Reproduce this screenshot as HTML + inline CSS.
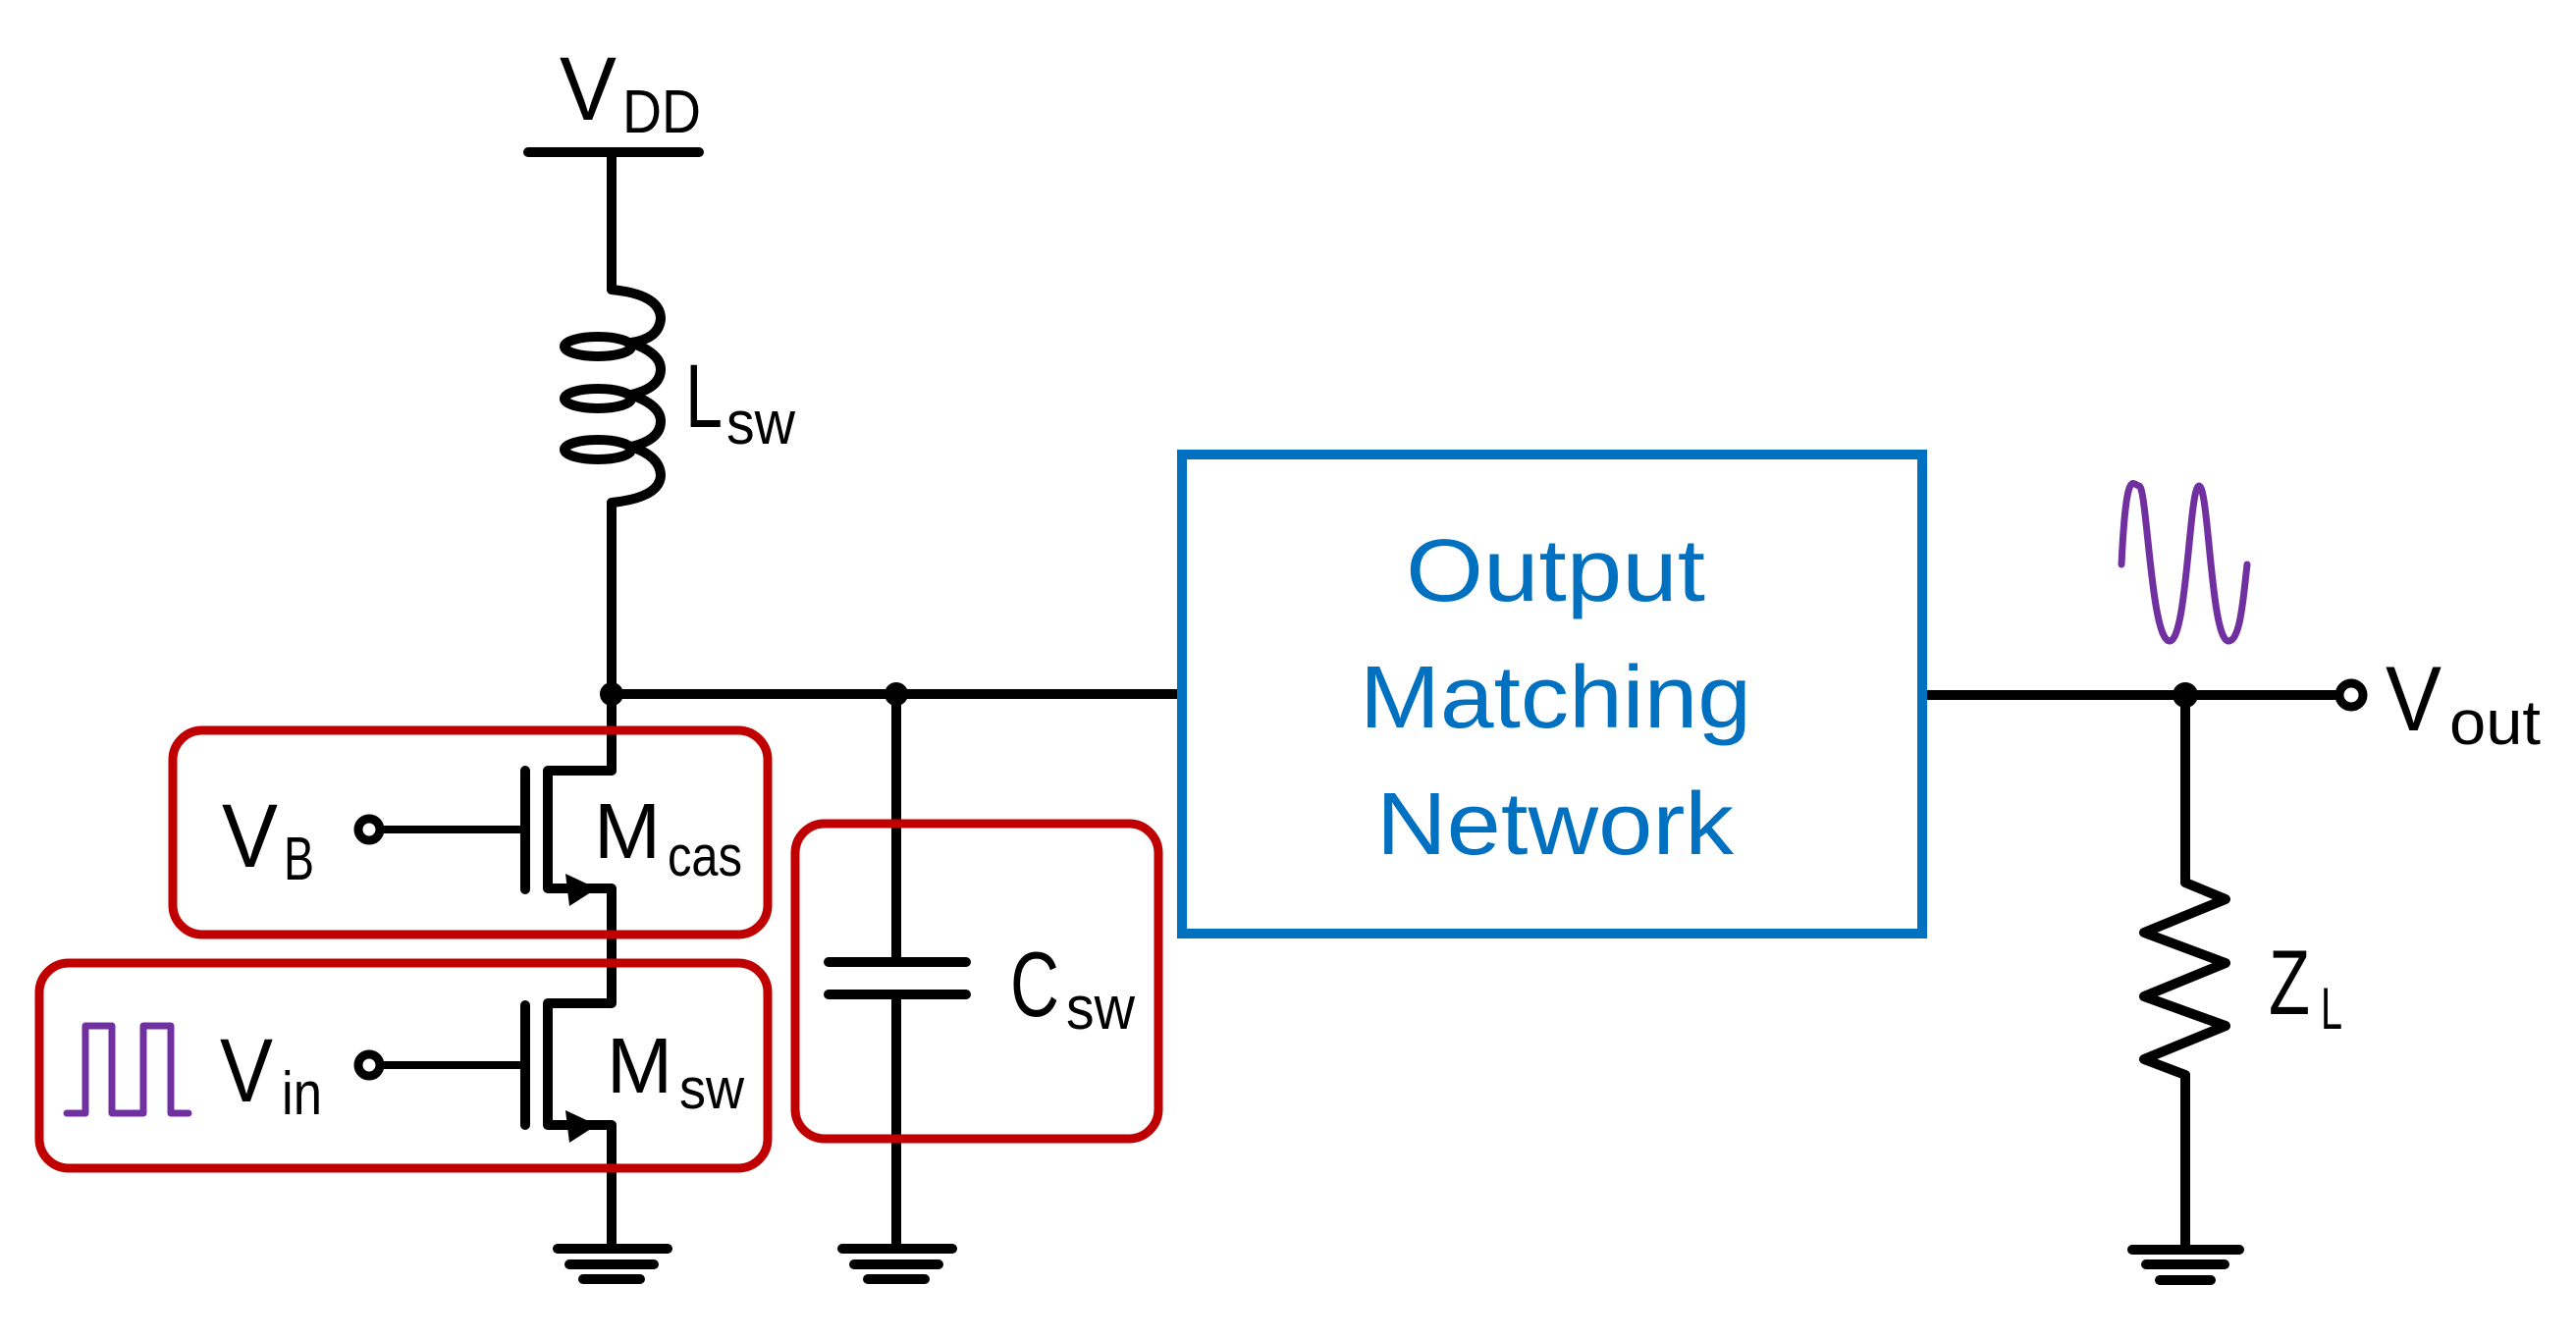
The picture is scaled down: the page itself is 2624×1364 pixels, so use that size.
<!DOCTYPE html>
<html><head><meta charset="utf-8"><style>
html,body{margin:0;padding:0;background:#fff;}
svg{display:block;}
text{font-family:"Liberation Sans",sans-serif;}
</style></head><body>
<svg width="2624" height="1364" viewBox="0 0 2624 1364" xmlns="http://www.w3.org/2000/svg">
<g stroke="#000" stroke-width="10" fill="none" stroke-linecap="round" stroke-linejoin="round">
  <line x1="538" y1="155" x2="712" y2="155"/>
  <line x1="623" y1="155" x2="623" y2="295"/>
  <path d="M623,295 Q673,300 673,325 Q671,345 643,349"/>
  <path d="M643,349 Q673,360 673,376 Q673,395 643,402"/>
  <path d="M643,402 Q673,413 673,429 Q673,448 643,455"/>
  <path d="M643,455 Q673,465 673,485 Q671,507 623,512"/>
  <ellipse cx="609" cy="353" rx="34" ry="10"/>
  <ellipse cx="609" cy="406" rx="34" ry="10"/>
  <ellipse cx="609" cy="458" rx="34" ry="10"/>
  <line x1="623" y1="512" x2="623" y2="785"/>
  <line x1="623" y1="707" x2="1202" y2="707"/>
  <polyline points="623,785 558,785 558,905 623,905 623,1022 558,1022 558,1146 623,1146 623,1272"/>
  <line x1="535" y1="785" x2="535" y2="906"/>
  <line x1="535" y1="1024" x2="535" y2="1146"/>
  <line x1="376" y1="845" x2="535" y2="845" stroke-width="8"/>
  <line x1="376" y1="1085" x2="535" y2="1085" stroke-width="8"/>
  <line x1="568" y1="1272" x2="680" y2="1272"/>
  <line x1="580" y1="1288" x2="666" y2="1288"/>
  <line x1="594" y1="1303" x2="652" y2="1303"/>
  <line x1="913" y1="707" x2="913" y2="980"/>
  <line x1="913" y1="1013" x2="913" y2="1272"/>
  <line x1="844" y1="980" x2="984" y2="980"/>
  <line x1="844" y1="1013" x2="984" y2="1013"/>
  <line x1="858" y1="1272" x2="970" y2="1272"/>
  <line x1="870" y1="1288" x2="956" y2="1288"/>
  <line x1="884" y1="1303" x2="942" y2="1303"/>
  <line x1="1960" y1="708" x2="2383" y2="708"/>
  <polyline points="2226,708 2226,899 2267,916 2184,950 2267,981 2184,1015 2267,1045 2184,1079 2226,1095 2226,1273"/>
  <line x1="2172" y1="1273" x2="2281" y2="1273"/>
  <line x1="2186" y1="1288" x2="2266" y2="1288"/>
  <line x1="2200" y1="1304" x2="2252" y2="1304"/>
</g>
<polygon points="576,890 608,905 580,923" fill="#000"/>
<polygon points="576,1131 608,1146 580,1164" fill="#000"/>
<circle cx="623" cy="707" r="12" fill="#000"/>
<circle cx="913" cy="707" r="12" fill="#000"/>
<circle cx="2226" cy="708" r="13" fill="#000"/>
<g fill="#fff" stroke="#000" stroke-width="9">
  <circle cx="376" cy="845" r="11"/>
  <circle cx="376" cy="1085" r="11"/>
  <circle cx="2395" cy="708" r="12"/>
</g>
<g fill="none" stroke="#c00000" stroke-width="9">
  <rect x="176" y="744" width="606" height="208" rx="30"/>
  <rect x="40" y="981" width="742" height="209" rx="30"/>
  <rect x="810" y="839" width="370" height="321" rx="30"/>
</g>
<rect x="1204" y="463" width="754" height="488" fill="none" stroke="#0070c0" stroke-width="10"/>
<polyline points="68,1134 87,1134 87,1045 114,1045 114,1134 146,1134 146,1045 174,1045 174,1134 192,1134" fill="none" stroke="#7030a0" stroke-width="7" stroke-linejoin="round" stroke-linecap="round"/>
<path d="M2161,575 C2166,470 2173,495 2179,495 C2187,495 2191,653 2210,653 C2228,653 2230,495 2240,495 C2250,495 2252,653 2270,653 C2282,653 2285,610 2289,575" fill="none" stroke="#7030a0" stroke-width="7" stroke-linecap="round"/>
<g fill="#000">
  <text x="570" y="122" font-size="92" textLength="58" lengthAdjust="spacingAndGlyphs">V</text>
  <text x="634" y="135" font-size="62" textLength="80" lengthAdjust="spacingAndGlyphs">DD</text>
  <text x="698" y="435" font-size="92" textLength="38" lengthAdjust="spacingAndGlyphs">L</text>
  <text x="740" y="452" font-size="62" textLength="70" lengthAdjust="spacingAndGlyphs">sw</text>
  <text x="226" y="883" font-size="92" textLength="57" lengthAdjust="spacingAndGlyphs">V</text>
  <text x="289" y="896" font-size="62" textLength="31" lengthAdjust="spacingAndGlyphs">B</text>
  <text x="605" y="874" font-size="80" textLength="68" lengthAdjust="spacingAndGlyphs">M</text>
  <text x="680" y="892" font-size="58" textLength="76" lengthAdjust="spacingAndGlyphs">cas</text>
  <text x="224" y="1122" font-size="92" textLength="54" lengthAdjust="spacingAndGlyphs">V</text>
  <text x="287" y="1135" font-size="62" textLength="41" lengthAdjust="spacingAndGlyphs">in</text>
  <text x="618" y="1113" font-size="80" textLength="67" lengthAdjust="spacingAndGlyphs">M</text>
  <text x="692" y="1129" font-size="58" textLength="66" lengthAdjust="spacingAndGlyphs">sw</text>
  <text x="1029" y="1035" font-size="94" textLength="50" lengthAdjust="spacingAndGlyphs">C</text>
  <text x="1086" y="1048" font-size="62" textLength="70" lengthAdjust="spacingAndGlyphs">sw</text>
  <text x="2430" y="744" font-size="94" textLength="57" lengthAdjust="spacingAndGlyphs">V</text>
  <text x="2495" y="758" font-size="64" textLength="93" lengthAdjust="spacingAndGlyphs">out</text>
  <text x="2311" y="1033" font-size="94" textLength="42" lengthAdjust="spacingAndGlyphs">Z</text>
  <text x="2364" y="1048" font-size="60" textLength="22" lengthAdjust="spacingAndGlyphs">L</text>
</g>
<g fill="#0070c0" font-size="90">
  <text x="1432" y="612" textLength="305" lengthAdjust="spacingAndGlyphs">Output</text>
  <text x="1385" y="741" textLength="399" lengthAdjust="spacingAndGlyphs">Matching</text>
  <text x="1402" y="870" textLength="364" lengthAdjust="spacingAndGlyphs">Network</text>
</g>
</svg>
</body></html>
